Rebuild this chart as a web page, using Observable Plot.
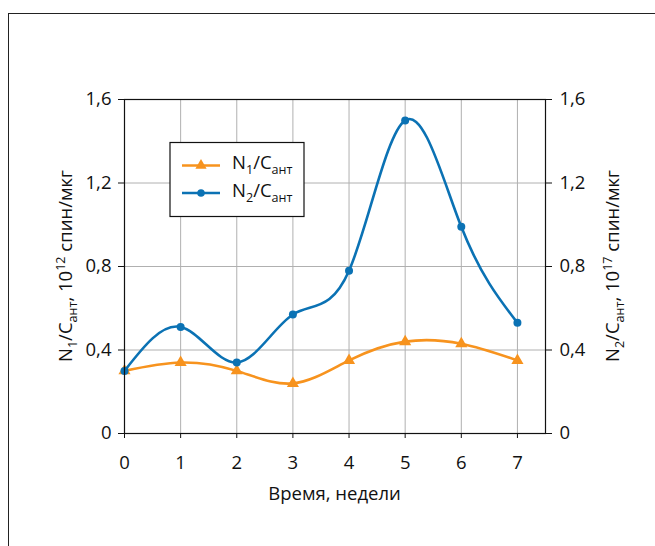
<!DOCTYPE html>
<html><head><meta charset="utf-8">
<script src="https://cdn.jsdelivr.net/npm/d3@7"></script>
<script src="https://cdn.jsdelivr.net/npm/@observablehq/plot@0.6"></script>
<style>
body{margin:0;overflow:hidden;background:#fff}
#wrap{position:relative;width:655px;height:546px;overflow:hidden;background:#fff}
#border{position:absolute;left:8px;top:13px;width:800px;height:800px;border-left:1.5px solid #222;border-top:1.5px solid #222;pointer-events:none;z-index:2}
#wrap svg{position:absolute;left:0;top:0}
</style></head><body><div id="wrap"><div id="border"></div></div>
<script>
const weeks = [0, 1, 2, 3, 4, 5, 6, 7];
const n1Values = [0.30, 0.34, 0.30, 0.24, 0.35, 0.44, 0.43, 0.35];
const n2Values = [0.30, 0.51, 0.34, 0.57, 0.78, 1.50, 0.99, 0.53];
const xTicks = [0, 1, 2, 3, 4, 5, 6, 7];
const yTicks = [0, 0.4, 0.8, 1.2, 1.6];
const xLabel = "Время, недели";

const ORANGE = "#f7931e", BLUE = "#0b72b4";
const FONT = "'Open Sans', 'Noto Sans', sans-serif";
const FS = 18.5;

const d1 = weeks.map((w, i) => ({week: w, value: n1Values[i]}));
const d2 = weeks.map((w, i) => ({week: w, value: n2Values[i]}));
const fmt = d => d === 0 ? "0" : d3.format(".1f")(d).replace(".", ",");

const plot = Plot.plot({
  width: 655, height: 546,
  marginLeft: 124, marginRight: 110, marginTop: 99, marginBottom: 113,
  style: {fontFamily: FONT, fontSize: FS + "px", background: "transparent", color: "#111", overflow: "visible"},
  x: {domain: [0, 7.5]},
  y: {domain: [0, 1.6]},
  marks: [
    Plot.gridX(xTicks, {stroke: "#b0b0b0", strokeOpacity: 1, strokeWidth: 1}),
    Plot.gridY(yTicks, {stroke: "#b0b0b0", strokeOpacity: 1, strokeWidth: 1}),
    Plot.line(d1, {x: "week", y: "value", curve: "natural", stroke: ORANGE, strokeWidth: 2.6}),
    Plot.dot(d1, {x: "week", y: "value", symbol: "triangle", r: 4.5, fill: ORANGE, stroke: "none"}),
    Plot.line(d2, {x: "week", y: "value", curve: "natural", stroke: BLUE, strokeWidth: 2.6}),
    Plot.dot(d2, {x: "week", y: "value", symbol: "circle", r: 4, fill: BLUE, stroke: "none"}),
    Plot.frame({stroke: "#111", strokeWidth: 1.2}),
    Plot.axisX(xTicks, {tickSize: 5, tickPadding: 17, tickFormat: d => String(d), label: null, stroke: "#111"}),
    Plot.axisY(yTicks, {anchor: "left", tickSize: 6, tickPadding: 7, tickFormat: fmt, label: null, stroke: "#111"}),
    Plot.axisY(yTicks, {anchor: "right", tickSize: 6, tickPadding: 8, tickFormat: fmt, label: null, stroke: "#111"})
  ]
});
document.getElementById("wrap").appendChild(plot);

const svg = d3.select(plot);
const xs = plot.scale("x"), ys = plot.scale("y");
const x0 = xs.range[0], x1 = xs.range[1];
const yTop = ys.range[1], yBot = ys.range[0];

function rich(sel, parts) {
  parts.forEach(p => {
    const t = sel.append("tspan").text(p.t);
    if (p.sub) t.attr("dy", FS * 0.28).attr("font-size", FS * 0.68);
    else if (p.sup) t.attr("dy", -FS * 0.38).attr("font-size", FS * 0.68);
    if (p.back) t.attr("dy", p.back);
  });
}
function label(parts) {
  const out = [];
  let shift = 0;
  parts.forEach(p => {
    const q = Object.assign({}, p);
    if (!p.sub && !p.sup && shift !== 0) { q.back = -shift; shift = 0; }
    if (p.sub) shift = FS * 0.28;
    if (p.sup) shift = -FS * 0.38;
    out.push(q);
  });
  return out;
}

svg.append("text")
  .attr("x", (x0 + x1) / 2).attr("y", 500)
  .attr("text-anchor", "middle").attr("font-family", FONT).attr("font-size", FS).attr("fill", "#111")
  .text(xLabel);

const leftLabel = label([{t: "N"}, {t: "1", sub: true}, {t: "/C"}, {t: "ант", sub: true}, {t: ", 10"}, {t: "12", sup: true}, {t: " спин/мкг"}]);
const rightLabel = label([{t: "N"}, {t: "2", sub: true}, {t: "/C"}, {t: "ант", sub: true}, {t: ", 10"}, {t: "17", sup: true}, {t: " спин/мкг"}]);
const yc = (yTop + yBot) / 2;
rich(svg.append("text").attr("transform", `translate(72,${yc}) rotate(-90)`)
  .attr("text-anchor", "middle").attr("font-family", FONT).attr("font-size", FS).attr("fill", "#111"), leftLabel);
rich(svg.append("text").attr("transform", `translate(619,${yc}) rotate(-90)`)
  .attr("text-anchor", "middle").attr("font-family", FONT).attr("font-size", FS).attr("fill", "#111"), rightLabel);

const lg = svg.append("g");
lg.append("rect").attr("x", 170).attr("y", 142.5).attr("width", 134).attr("height", 74)
  .attr("fill", "#fff").attr("stroke", "#111").attr("stroke-width", 1.2);
const entries = [
  {sub: "1", color: ORANGE, symbol: d3.symbolTriangle, y: 165.5},
  {sub: "2", color: BLUE, symbol: d3.symbolCircle, y: 193}
];
entries.forEach(e => {
  lg.append("line").attr("x1", 182).attr("x2", 220).attr("y1", e.y).attr("y2", e.y)
    .attr("stroke", e.color).attr("stroke-width", 2.6);
  lg.append("path").attr("d", d3.symbol(e.symbol, e.symbol === d3.symbolCircle ? 45 : 55)())
    .attr("transform", `translate(201,${e.y})`).attr("fill", e.color);
  rich(lg.append("text").attr("x", 232).attr("y", e.y + 3.5).attr("text-anchor", "start")
    .attr("font-family", FONT).attr("font-size", FS).attr("fill", "#111"),
    label([{t: "N"}, {t: e.sub, sub: true}, {t: "/C"}, {t: "ант", sub: true}]));
});
</script></body></html>
